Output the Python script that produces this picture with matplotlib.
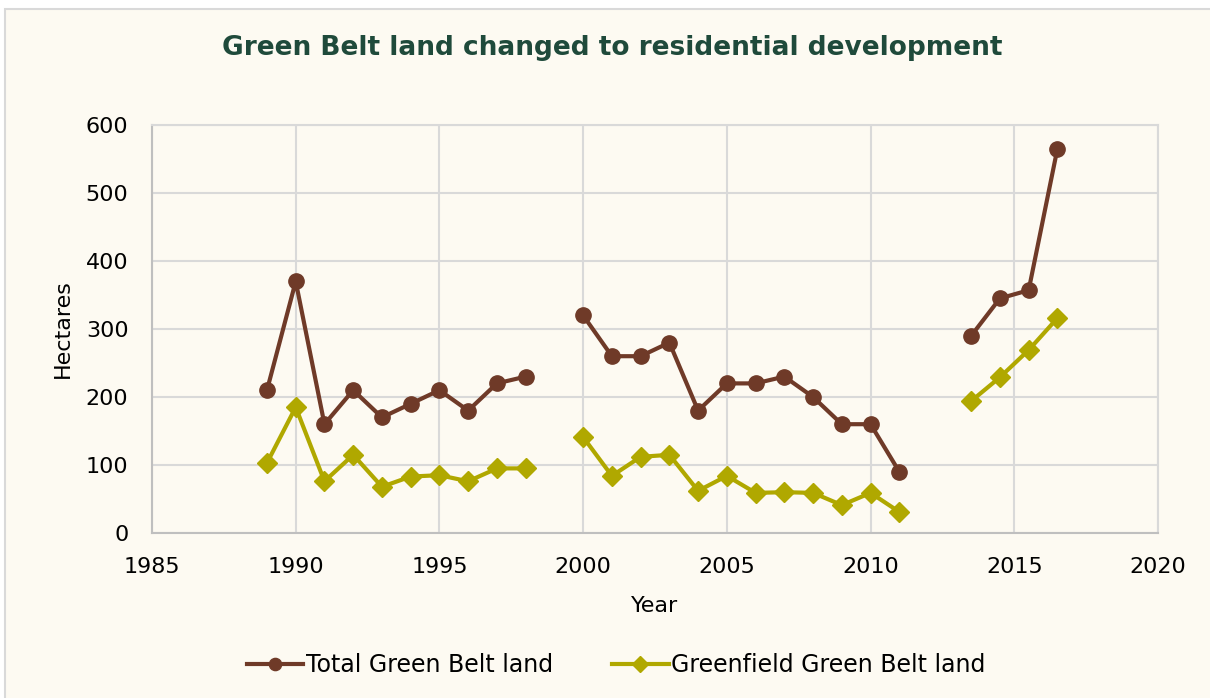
import numpy as np
import matplotlib.pyplot as plt
from matplotlib.patches import Rectangle

# Years (gaps marked with nan so the line breaks)
years = [1989, 1990, 1991, 1992, 1993, 1994, 1995, 1996, 1997, 1998, np.nan,
         2000, 2001, 2002, 2003, 2004, 2005, 2006, 2007, 2008, 2009, 2010, 2011, np.nan,
         2013.5, 2014.5, 2015.5, 2016.5]
total_gb = [210, 370, 160, 210, 170, 190, 210, 180, 220, 230, np.nan,
            320, 260, 260, 280, 180, 220, 220, 230, 200, 160, 160, 90, np.nan,
            290, 345, 357, 565]
greenfield_gb = [103, 185, 76, 115, 68, 83, 85, 76, 95, 95, np.nan,
                 141, 84, 112, 115, 62, 84, 59, 60, 59, 41, 59, 31, np.nan,
                 194, 229, 269, 316]

BG = '#fdfaf2'
BROWN = '#6f3a28'
OLIVE = '#b0a800'
GRID = '#d9d9d9'

plt.rcParams['font.family'] = ['DejaVu Sans']

fig = plt.figure(figsize=(12.1, 6.98), dpi=100)
fig.patch.set_facecolor('white')
fig.patches.append(Rectangle((5 / 1210, -0.01), 1.0, 1 - 9 / 698 + 0.01,
                             transform=fig.transFigure, facecolor=BG,
                             edgecolor=GRID, linewidth=1.5, zorder=-10))

ax = fig.add_axes([152 / 1210, 1 - 533 / 698, (1158 - 152) / 1210, (533 - 125) / 698])
ax.set_facecolor(BG)

ax.plot(years, total_gb, color=BROWN, linewidth=3, marker='o', markersize=11,
        label='Total Green Belt land')
ax.plot(years, greenfield_gb, color=OLIVE, linewidth=3, marker='D', markersize=10,
        label='Greenfield Green Belt land')

ax.set_xlim(1985, 2020)
ax.set_ylim(0, 600)
ax.set_xticks(range(1985, 2021, 5))
ax.set_yticks(range(0, 601, 100))
ax.grid(True, color=GRID, linewidth=1.5)
ax.set_axisbelow(True)
for s in ax.spines.values():
    s.set_color(GRID)
    s.set_linewidth(1.5)
ax.spines['left'].set_color('#bfbfbf')
ax.spines['bottom'].set_color('#bfbfbf')
ax.tick_params(length=0, labelsize=16)
ax.tick_params(axis='x', pad=17)
ax.tick_params(axis='y', pad=17)

ax.set_xlabel('Year', fontsize=16, labelpad=14)
ax.set_ylabel('Hectares', fontsize=16, labelpad=9)

fig.text(612 / 1210, 1 - 48 / 698, 'Green Belt land changed to residential development',
         ha='center', va='center', fontsize=19, fontweight='bold', color='#1f4a3b')

fig.legend(loc='center', bbox_to_anchor=(616 / 1210, 1 - 665 / 698), ncol=2, frameon=False,
           fontsize=17, handlelength=2.4, handletextpad=0.1, columnspacing=2.5,
           markerscale=0.8)

fig.savefig('out.png', dpi=100, facecolor=fig.get_facecolor())
